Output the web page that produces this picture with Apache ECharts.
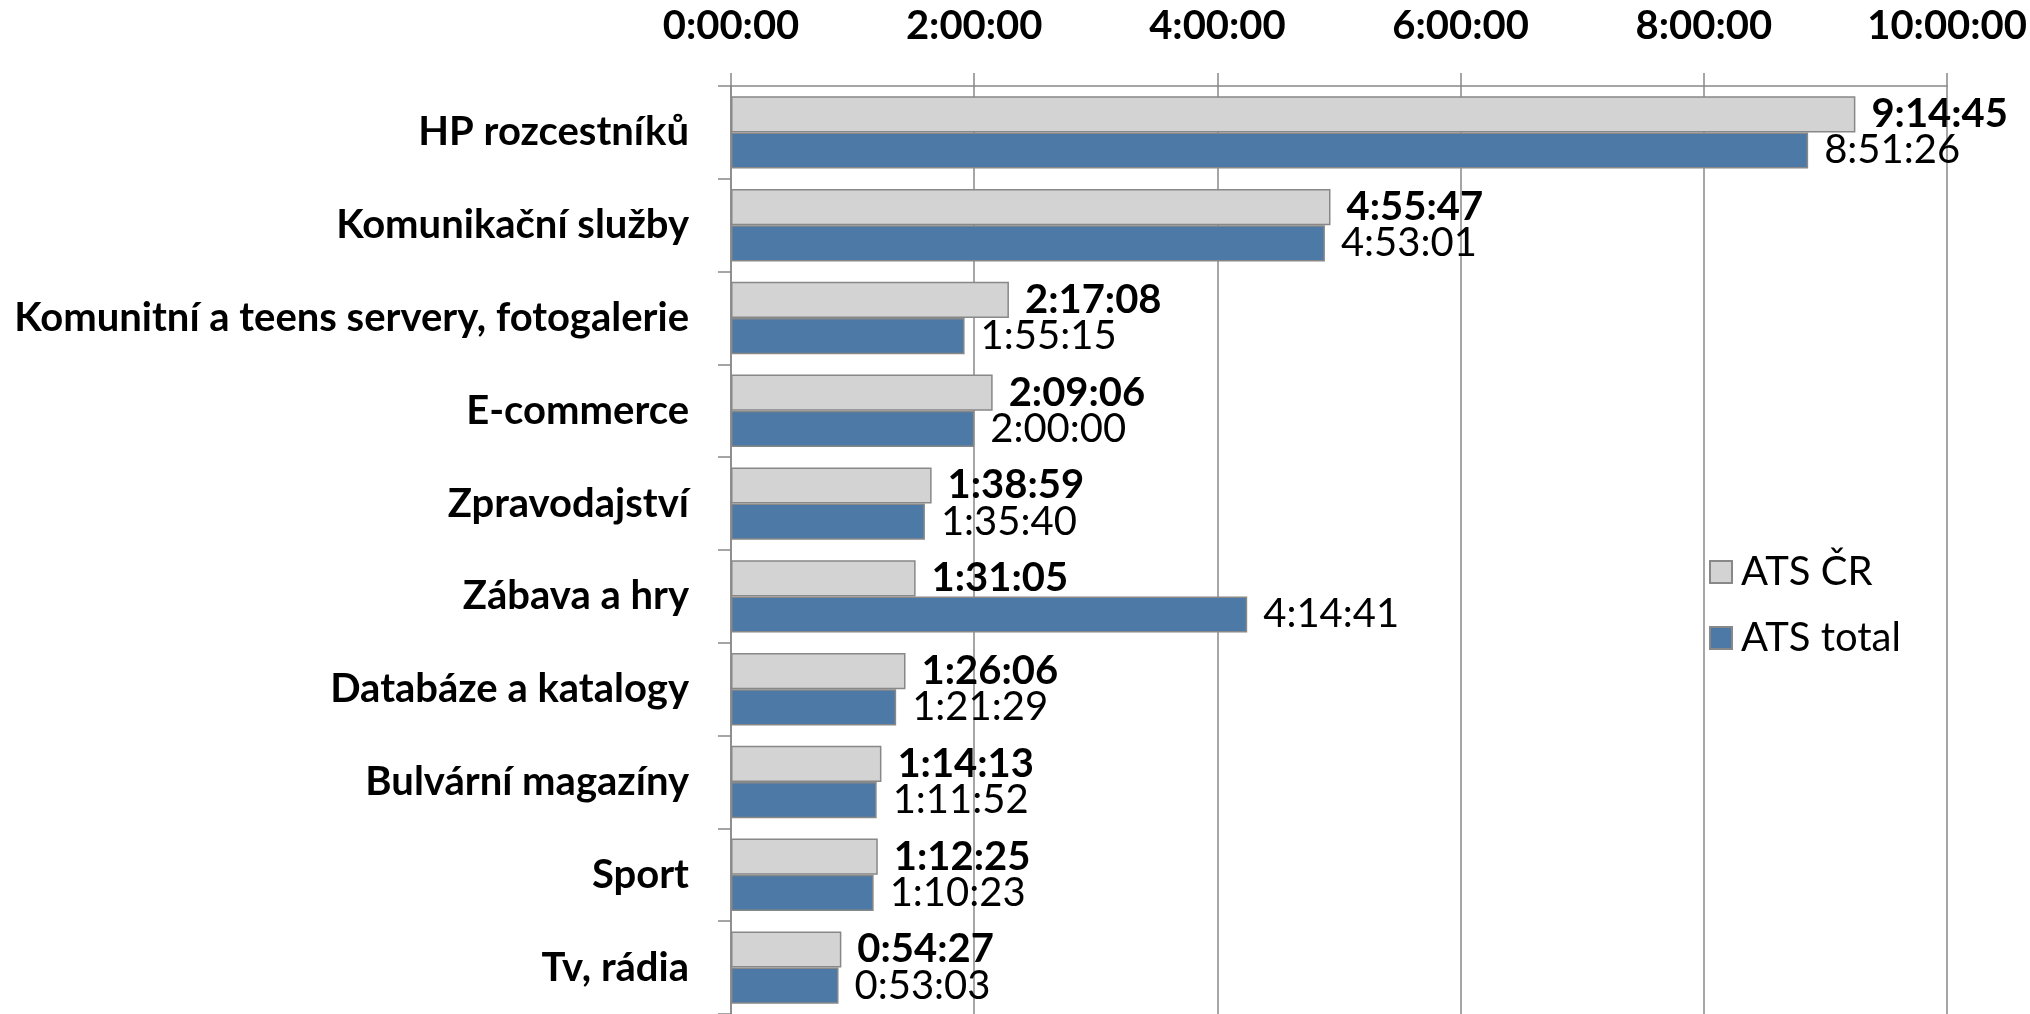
<!DOCTYPE html>
<html>
<head>
<meta charset="utf-8">
<script src="https://cdn.jsdelivr.net/npm/echarts@6/dist/echarts.min.js"></script>
<style>
  html, body { margin: 0; padding: 0; background: #fff; }
  #chart { width: 2030px; height: 1014px; }
</style>
</head>
<body>
<div id="chart"></div>
<script>
// categories top to bottom
const categories = [
  "HP rozcestníků",
  "Komunikační služby",
  "Komunitní a teens servery, fotogalerie",
  "E-commerce",
  "Zpravodajství",
  "Zábava a hry",
  "Databáze a katalogy",
  "Bulvární magazíny",
  "Sport",
  "Tv, rádia",
]
// times as h:mm:ss
const atsCR = ["9:14:45", "4:55:47", "2:17:08", "2:09:06", "1:38:59", "1:31:05", "1:26:06", "1:14:13", "1:12:25", "0:54:27"]
const atsTotal = ["8:51:26", "4:53:01", "1:55:15", "2:00:00", "1:35:40", "4:14:41", "1:21:29", "1:11:52", "1:10:23", "0:53:03"]
const seriesNames = ["ATS ČR", "ATS total"]

const FONT = "Lato"
const SIZE = 40

function toSeconds(t) {
  const p = t.split(":").map(Number)
  return p[0] * 3600 + p[1] * 60 + p[2]
}
function toTime(s) {
  const h = Math.floor(s / 3600)
  const m = Math.floor((s % 3600) / 60)
  const sec = s % 60
  return h + ":" + String(m).padStart(2, "0") + ":" + String(sec).padStart(2, "0")
}

const chart = echarts.init(document.getElementById("chart"))
const option = {
  animation: false,
  textStyle: { fontFamily: FONT },
  legend: {
    data: seriesNames,
    orient: "vertical",
    left: 1704,
    top: 547,
    icon: "rect",
    itemWidth: 22,
    itemHeight: 22,
    itemGap: 26,
    textStyle: { fontFamily: FONT, fontSize: SIZE, color: "#000", padding: [0, 0, 0, 4] },
  },
  grid: { left: 731, top: 86, width: 1219, height: 933 },
  xAxis: {
    type: "value",
    position: "top",
    min: 0,
    max: 36000,
    interval: 7200,
    axisLine: { show: true, lineStyle: { color: "#888", width: 1.5 } },
    axisTick: { show: true, length: 13, lineStyle: { color: "#888", width: 1.5 } },
    splitLine: { show: true, lineStyle: { color: "#888", width: 1.5 } },
    axisLabel: {
      fontFamily: FONT,
      fontSize: SIZE,
      fontWeight: "bold",
      color: "#000",
      margin: 40,
      formatter: (v) => toTime(v),
    },
  },
  yAxis: {
    type: "category",
    inverse: true,
    data: categories,
    axisLine: { show: true, lineStyle: { color: "#888", width: 1.5 } },
    axisTick: { show: true, length: 13, lineStyle: { color: "#888", width: 1.5 } },
    axisLabel: {
      fontFamily: FONT,
      fontSize: SIZE,
      fontWeight: "bold",
      color: "#000",
      margin: 42,
    },
  },
  series: [
    {
      name: seriesNames[0],
      type: "bar",
      data: atsCR.map(toSeconds),
      barGap: "0%",
      barCategoryGap: "22%",
      itemStyle: { color: "#d3d3d3", borderColor: "#888", borderWidth: 1.5 },
      label: {
        show: true,
        position: "right",
        distance: 16,
        fontFamily: FONT,
        fontSize: SIZE,
        fontWeight: "bold",
        color: "#000",
        formatter: (p) => toTime(p.value),
      },
    },
    {
      name: seriesNames[1],
      type: "bar",
      data: atsTotal.map(toSeconds),
      itemStyle: { color: "#4c79a5", borderColor: "#888", borderWidth: 1.5 },
      label: {
        show: true,
        position: "right",
        distance: 16,
        fontFamily: FONT,
        fontSize: SIZE,
        color: "#000",
        formatter: (p) => toTime(p.value),
      },
    },
  ],
}
chart.setOption(option)
</script>
</body>
</html>
